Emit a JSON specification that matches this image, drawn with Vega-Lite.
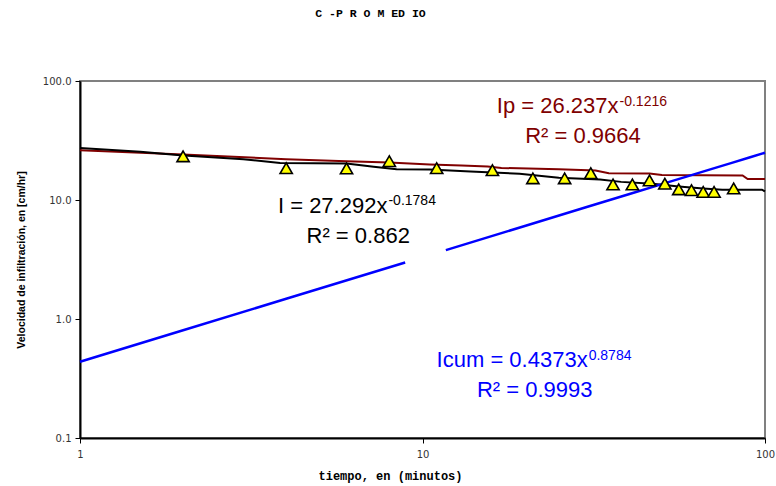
{
  "$schema": "https://vega.github.io/schema/vega-lite/v6.json",
  "width": 685,
  "height": 357,
  "autosize": {"type": "none"},
  "padding": {"left": 80, "top": 81, "right": 11, "bottom": 48},
  "background": "white",
  "title": {
    "text": "C -P R O M ED IO",
    "font": "Liberation Mono",
    "fontSize": 11.5,
    "fontWeight": "bold",
    "color": "#000000",
    "anchor": "middle",
    "dx": -52,
    "offset": 48,
    "baseline": "alphabetic"
  },
  "config": {
    "view": {"stroke": "#808080", "strokeWidth": 2},
    "axis": {
      "grid": false,
      "domainColor": "#000000",
      "domainWidth": 2,
      "tickColor": "#000000",
      "tickSize": 5,
      "labelFont": "DejaVu Sans",
      "labelFontSize": 10,
      "labelColor": "#333333",
      "labelFlush": false,
      "labelOverlap": false
    },
    "text": {"font": "Liberation Sans", "fontSize": 22, "baseline": "alphabetic"}
  },
  "datasets": {
    "medido": [
      {"t": 2, "v": 23.3}, {"t": 4, "v": 18.5}, {"t": 6, "v": 18.4}, {"t": 8, "v": 21.2},
      {"t": 11, "v": 18.5}, {"t": 16, "v": 17.8}, {"t": 21, "v": 15.2}, {"t": 26, "v": 15.2},
      {"t": 31, "v": 16.8}, {"t": 36, "v": 13.5}, {"t": 41, "v": 13.5}, {"t": 46, "v": 14.6},
      {"t": 51, "v": 13.7}, {"t": 56, "v": 12.3}, {"t": 61, "v": 12.1}, {"t": 66, "v": 11.7},
      {"t": 71, "v": 11.7}, {"t": 81, "v": 12.5}
    ],
    "I": [
      {"t": 1, "v": 27.3}, {"t": 1.5, "v": 25.4}, {"t": 1.96, "v": 23.8}, {"t": 3, "v": 22.0},
      {"t": 3.84, "v": 20.5}, {"t": 6, "v": 20.3}, {"t": 7.2, "v": 19.0}, {"t": 8.4, "v": 18.1},
      {"t": 10.5, "v": 18.0}, {"t": 13.8, "v": 17.35}, {"t": 19.2, "v": 16.6}, {"t": 25, "v": 15.4},
      {"t": 33, "v": 14.9}, {"t": 38, "v": 14.2}, {"t": 47, "v": 13.7}, {"t": 56, "v": 13.0},
      {"t": 66, "v": 12.5}, {"t": 75, "v": 12.2}, {"t": 98, "v": 12.2}, {"t": 100, "v": 11.8}
    ],
    "Ip": [
      {"t": 1, "v": 26.2}, {"t": 2, "v": 24.1}, {"t": 4, "v": 22.0}, {"t": 6, "v": 21.2},
      {"t": 8, "v": 20.7}, {"t": 10.5, "v": 19.9}, {"t": 13, "v": 19.5}, {"t": 15.5, "v": 19.1},
      {"t": 17, "v": 18.6}, {"t": 25, "v": 18.1}, {"t": 32, "v": 17.7}, {"t": 35, "v": 16.8},
      {"t": 46, "v": 16.7}, {"t": 50, "v": 16.2}, {"t": 86, "v": 16.1}, {"t": 89, "v": 15.0},
      {"t": 100, "v": 15.0}
    ],
    "Icum": [
      {"seg": 1, "t": 1, "v": 0.437}, {"seg": 1, "t": 2, "v": 0.804}, {"seg": 1, "t": 4, "v": 1.478},
      {"seg": 1, "t": 8.9, "v": 2.98},
      {"seg": 2, "t": 11.7, "v": 3.79}, {"seg": 2, "t": 20, "v": 6.08}, {"seg": 2, "t": 30, "v": 8.68},
      {"seg": 2, "t": 40, "v": 11.17}, {"seg": 2, "t": 50, "v": 13.59}, {"seg": 2, "t": 60, "v": 15.95},
      {"seg": 2, "t": 70, "v": 18.26}, {"seg": 2, "t": 80, "v": 20.53}, {"seg": 2, "t": 90, "v": 22.77},
      {"seg": 2, "t": 100, "v": 24.94}
    ],
    "one": [{"k": 1}]
  },
  "layer": [
    {
      "data": {"name": "Ip"},
      "mark": {"type": "line", "color": "#800000", "strokeWidth": 2},
      "encoding": {
        "x": {
          "field": "t",
          "type": "quantitative",
          "scale": {"type": "log", "domain": [1, 100], "nice": false},
          "axis": {
            "values": [1, 10, 100],
            "format": "d",
            "labelPadding": 6,
            "title": "tiempo, en (minutos)",
            "titleFont": "Liberation Mono",
            "titleFontSize": 12,
            "titleFontWeight": "bold",
            "titleColor": "#000000",
            "titleX": 310,
            "titleY": 41,
            "titleAlign": "center",
            "titleBaseline": "alphabetic"
          }
        },
        "y": {
          "field": "v",
          "type": "quantitative",
          "scale": {"type": "log", "domain": [0.1, 100], "nice": false},
          "axis": {
            "values": [0.1, 1, 10, 100],
            "format": ".1f",
            "labelPadding": 4,
            "title": "Velocidad de infiltración, en [cm/hr]",
            "titleFont": "Liberation Sans",
            "titleFontSize": 10.5,
            "titleFontWeight": "bold",
            "titleColor": "#000000",
            "titleX": -59,
            "titleY": 178.5,
            "titleAngle": 270,
            "titleAlign": "center",
            "titleBaseline": "middle"
          }
        }
      }
    },
    {
      "data": {"name": "I"},
      "mark": {"type": "line", "color": "#000000", "strokeWidth": 2},
      "encoding": {"x": {"field": "t", "type": "quantitative"}, "y": {"field": "v", "type": "quantitative"}}
    },
    {
      "data": {"name": "Icum"},
      "mark": {"type": "line", "color": "#0000FF", "strokeWidth": 2.5},
      "encoding": {"x": {"field": "t", "type": "quantitative"}, "y": {"field": "v", "type": "quantitative"}, "detail": {"field": "seg", "type": "nominal"}}
    },
    {
      "data": {"name": "medido"},
      "mark": {"type": "point", "shape": "triangle-up", "filled": true, "fill": "#FFFF00", "stroke": "#000000", "strokeWidth": 1.6, "size": 150, "opacity": 1},
      "encoding": {"x": {"field": "t", "type": "quantitative"}, "y": {"field": "v", "type": "quantitative"}}
    },
    {
      "data": {"name": "one"},
      "mark": {"type": "text", "align": "right", "color": "#800000"},
      "encoding": {"x": {"datum": 37.35}, "y": {"datum": 53.4}, "text": {"value": "Ip = 26.237x"}}
    },
    {
      "data": {"name": "one"},
      "mark": {"type": "text", "align": "left", "dx": 1, "dy": -7, "fontSize": 14, "color": "#800000"},
      "encoding": {"x": {"datum": 37.35}, "y": {"datum": 53.4}, "text": {"value": "-0.1216"}}
    },
    {
      "data": {"name": "one"},
      "mark": {"type": "text", "align": "center", "color": "#800000"},
      "encoding": {"x": {"datum": 29.4}, "y": {"datum": 29.9}, "text": {"value": "R² = 0.9664"}}
    },
    {
      "data": {"name": "one"},
      "mark": {"type": "text", "align": "right", "color": "#000000"},
      "encoding": {"x": {"datum": 7.9}, "y": {"datum": 7.77}, "text": {"value": "I = 27.292x"}}
    },
    {
      "data": {"name": "one"},
      "mark": {"type": "text", "align": "left", "dx": 1, "dy": -8, "fontSize": 14, "color": "#000000"},
      "encoding": {"x": {"datum": 7.9}, "y": {"datum": 7.77}, "text": {"value": "-0.1784"}}
    },
    {
      "data": {"name": "one"},
      "mark": {"type": "text", "align": "center", "color": "#000000"},
      "encoding": {"x": {"datum": 6.49}, "y": {"datum": 4.34}, "text": {"value": "R² = 0.862"}}
    },
    {
      "data": {"name": "one"},
      "mark": {"type": "text", "align": "right", "color": "#0000FF"},
      "encoding": {"x": {"datum": 30.35}, "y": {"datum": 0.392}, "text": {"value": "Icum = 0.4373x"}}
    },
    {
      "data": {"name": "one"},
      "mark": {"type": "text", "align": "left", "dx": 1, "dy": -7, "fontSize": 14, "color": "#0000FF"},
      "encoding": {"x": {"datum": 30.35}, "y": {"datum": 0.392}, "text": {"value": "0.8784"}}
    },
    {
      "data": {"name": "one"},
      "mark": {"type": "text", "align": "center", "color": "#0000FF"},
      "encoding": {"x": {"datum": 21.27}, "y": {"datum": 0.222}, "text": {"value": "R² = 0.9993"}}
    }
  ]
}
